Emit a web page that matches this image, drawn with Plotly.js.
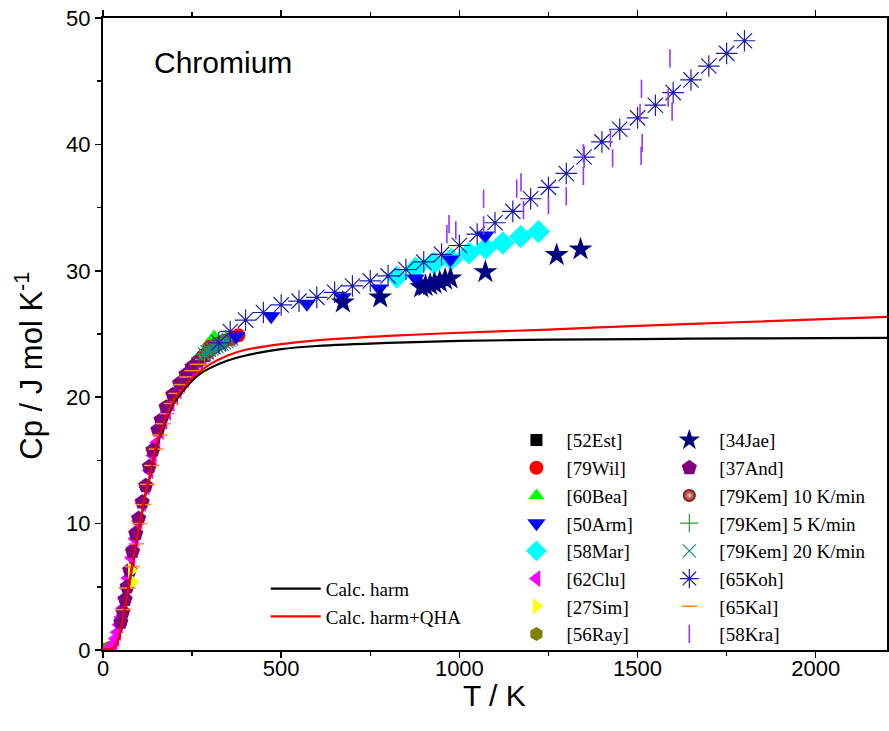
<!DOCTYPE html>
<html>
<head>
<meta charset="utf-8">
<script src="https://cdn.plot.ly/plotly-3.0.1.min.js"></script>
<style>html,body{margin:0;padding:0;background:#fff;}#chart{width:889px;height:731px;}</style>
</head>
<body>
<div id="chart"></div>
<script>
// ---- Data ----
const calcT      = [0, 20, 30, 40, 50, 60, 70, 80, 90, 100, 110, 120, 130, 140, 150, 165, 180, 200, 225, 250, 275, 300, 350, 400, 500, 600, 800, 1000, 1250, 1500, 1800, 2200];
const calcHarm   = [0, 0.05, 0.2, 0.6, 1.5, 2.9, 4.5, 6.3, 7.9, 9.4, 10.9, 12.4, 13.5, 14.9, 16.0, 17.3, 18.4, 19.6, 20.5, 21.3, 21.9, 22.3, 22.9, 23.3, 23.8, 24.05, 24.3, 24.45, 24.55, 24.6, 24.65, 24.7];
const calcQHA    = [0, 0.05, 0.2, 0.6, 1.6, 3.0, 4.6, 6.4, 8.0, 9.5, 11.0, 12.5, 13.6, 15.0, 16.2, 17.5, 18.6, 19.8, 20.7, 21.5, 22.1, 22.6, 23.3, 23.75, 24.2, 24.5, 24.85, 25.1, 25.35, 25.65, 25.95, 26.35];

const estT = [2, 4, 6, 8];            const estCp = [0.0, 0.01, 0.02, 0.04];
const wilT = [300, 320, 340, 360, 380]; const wilCp = [24.0, 24.2, 24.4, 24.6, 24.9];
const beaT = [295, 305, 312];          const beaCp = [24.2, 24.5, 24.8];
const armT = [374, 472, 572, 672, 775, 877, 975, 1073];
const armCp = [24.8, 26.4, 27.4, 27.9, 28.6, 29.4, 30.9, 32.8];
const marT = [825, 877, 929, 977, 1027, 1074, 1122, 1172, 1222];
const marCp = [29.5, 30.2, 30.6, 30.9, 31.4, 31.8, 32.2, 32.7, 33.1];
const cluT = [15, 20, 25, 30, 35, 40, 45, 50, 55, 60, 65, 70, 75, 80, 85, 90, 95, 100, 110, 120, 130, 140, 150, 160, 170, 180, 190, 200, 210, 220, 230, 240, 250, 260, 270, 280, 290, 300];
const cluCp = [0.05, 0.1, 0.25, 0.5, 0.9, 1.4, 2.0, 2.6, 3.3, 4.1, 4.9, 5.7, 6.5, 7.3, 8.1, 8.8, 9.5, 10.2, 11.6, 12.9, 14.2, 15.4, 16.4, 17.3, 18.1, 18.8, 19.5, 20.0, 20.5, 21.0, 21.4, 21.8, 22.1, 22.5, 22.8, 23.1, 23.4, 23.6];
const simT = [80, 84];                 const simCp = [6.3, 5.4];
const rayT = [3, 8, 13, 18];           const rayCp = [0.01, 0.05, 0.1, 0.2];
const jaeT = [673, 778, 893, 905, 918, 930, 945, 960, 975, 1073, 1273, 1340];
const jaeCp = [27.5, 27.9, 28.7, 28.8, 28.9, 29.0, 29.1, 29.3, 29.4, 29.9, 31.25, 31.7];
const andT = [50, 56, 62, 68, 75, 83, 92, 100, 110, 120, 130, 140, 154, 163, 177, 196, 215, 233, 250, 268, 285];
const andCp = [2.2, 3.0, 4.0, 5.0, 6.3, 7.8, 9.2, 10.4, 11.7, 13.0, 14.5, 15.8, 17.4, 18.2, 19.2, 20.2, 21.1, 21.8, 22.4, 22.9, 23.3];
const kem10T = [280, 290, 300, 310, 320, 330, 340];
const kem10Cp = [23.3, 23.5, 23.7, 23.9, 24.1, 24.3, 24.5];
const kem5T = [285, 295, 305, 315, 325, 335, 345];
const kem5Cp = [23.4, 23.6, 23.8, 24.0, 24.2, 24.4, 24.6];
const kem20T = [285, 292, 299, 306, 313, 320, 327, 334, 341, 348, 355, 362];
const kem20Cp = [23.4, 23.6, 23.7, 23.8, 23.9, 24.0, 24.1, 24.2, 24.3, 24.4, 24.5, 24.6];
const kohT = [325, 357, 400, 450, 500, 550, 600, 650, 700, 750, 800, 850, 900, 950, 1000, 1050, 1100, 1150, 1200, 1250, 1300, 1350, 1400, 1450, 1500, 1550, 1600, 1650, 1700, 1750, 1800];
const kohCp = [24.3, 25.2, 26.1, 26.7, 27.3, 27.6, 27.9, 28.3, 28.8, 29.2, 29.6, 30.1, 30.7, 31.3, 32.0, 32.9, 33.8, 34.7, 35.7, 36.6, 37.7, 39.0, 40.2, 41.2, 42.1, 43.1, 44.1, 45.1, 46.2, 47.2, 48.2];
const kalT = [58, 70, 82, 93, 103, 113, 125, 137, 149, 160, 170, 180, 192, 205, 220, 235, 250, 265, 280, 295];
const kalCp = [3.2, 4.9, 6.6, 8.4, 10.0, 11.5, 13.1, 14.6, 15.9, 17.0, 17.9, 18.7, 19.5, 20.3, 21.0, 21.6, 22.1, 22.6, 23.0, 23.4];
const kraT = [965, 971, 990, 1068, 1068, 1161, 1173, 1180, 1250, 1300, 1348, 1348, 1424, 1430, 1507, 1511, 1513, 1510, 1586, 1597, 1591];
const kraCp = [32.9, 33.7, 33.2, 35.7, 33.6, 36.5, 37.0, 34.8, 35.2, 35.9, 39.3, 37.5, 40.5, 38.9, 42.5, 44.4, 40.1, 39.1, 43.7, 42.6, 46.8];

const labels = {
  est: '[52Est]', wil: '[79Wil]', bea: '[60Bea]', arm: '[50Arm]', mar: '[58Mar]', clu: '[62Clu]', sim: '[27Sim]', ray: '[56Ray]',
  jae: '[34Jae]', and: '[37And]', kem10: '[79Kem] 10 K/min', kem5: '[79Kem] 5 K/min', kem20: '[79Kem] 20 K/min', koh: '[65Koh]', kal: '[65Kal]', kra: '[58Kra]',
  harm: 'Calc. harm', qha: 'Calc. harm+QHA'
};
const xTitle = 'T / K';
const yTitle = 'Cp / J mol K<sup>-1</sup>';
const plotLabel = 'Chromium';

function pts(x, y, name, legend, rank, symbol, color, size, extra) {
  const m = Object.assign({symbol: symbol, color: color, size: size, line: {width: 0}}, extra || {});
  return {x: x, y: y, name: name, type: 'scatter', mode: 'markers', marker: m, legend: legend, legendrank: rank};
}
function openSym(x, y, name, legend, rank, symbol, color, size, lw) {
  return {x: x, y: y, name: name, type: 'scatter', mode: 'markers', legend: legend, legendrank: rank,
    marker: {symbol: symbol, size: size, color: color, line: {color: color, width: lw}}};
}

const traces = [
  pts(estT, estCp, labels.est, 'legend', 1, 'square', '#000000', 12),
  pts(rayT, rayCp, labels.ray, 'legend', 8, 'hexagon', '#808000', 14),
  pts(cluT, cluCp, labels.clu, 'legend', 6, 'triangle-left', '#ff00ff', 15),
  pts(andT, andCp, labels.and, 'legend2', 2, 'pentagon', '#800080', 16),
  pts(simT, simCp, labels.sim, 'legend', 7, 'triangle-right', '#ffff00', 14),
  openSym(kalT, kalCp, labels.kal, 'legend2', 7, 'line-ew-open', '#ff8c1a', 11, 1.5),
  pts(beaT, beaCp, labels.bea, 'legend', 3, 'triangle-up', '#00ff00', 14),
  pts(wilT, wilCp, labels.wil, 'legend', 2, 'circle', '#ff0000', 14),
  pts(kem10T, kem10Cp, labels.kem10, 'legend2', 3, 'circle', '#800000', 13, {gradient: {type: 'radial', color: '#f0c0c0'}}),
  openSym(kem5T, kem5Cp, labels.kem5, 'legend2', 4, 'cross-thin-open', '#2e9a2e', 13, 1.2),
  openSym(kem20T, kem20Cp, labels.kem20, 'legend2', 5, 'x-thin-open', '#188a8a', 13, 1.2),
  pts(marT, marCp, labels.mar, 'legend', 5, 'diamond', '#00ffff', 18),
  pts(armT, armCp, labels.arm, 'legend', 4, 'triangle-down', '#0000ff', 16),
  pts(jaeT, jaeCp, labels.jae, 'legend2', 1, 'star', '#000080', 18),
  openSym(kohT, kohCp, labels.koh, 'legend2', 6, 'asterisk-open', '#1c1ca8', 18, 1.2),
  openSym(kraT, kraCp, labels.kra, 'legend2', 8, 'line-ns-open', '#9933ff', 13, 1.6),
  {x: calcT, y: calcHarm, name: labels.harm, type: 'scatter', mode: 'lines', line: {color: '#000000', width: 2.2, shape: 'spline', smoothing: 0.6}, legend: 'legend3', legendrank: 1},
  {x: calcT, y: calcQHA, name: labels.qha, type: 'scatter', mode: 'lines', line: {color: '#ff0000', width: 2.2, shape: 'spline', smoothing: 0.6}, legend: 'legend3', legendrank: 2}
];

const sans = 'Liberation Sans, Arial, sans-serif';
const axFont = {family: sans, size: 22, color: '#000'};
const legFont = {family: 'Liberation Serif, Times New Roman, serif', size: 19, color: '#000'};
const legCommon = {font: legFont, bgcolor: 'rgba(0,0,0,0)', borderwidth: 0, tracegroupgap: 0, itemsizing: 'trace', itemwidth: 50, traceorder: 'normal', xanchor: 'left', yanchor: 'top'};

const layout = {
  width: 889, height: 731,
  margin: {l: 103, r: 2, t: 18, b: 81},
  paper_bgcolor: '#ffffff', plot_bgcolor: '#ffffff',
  showlegend: true,
  xaxis: {
    range: [0, 2200], dtick: 500, tick0: 0, ticks: 'outside', ticklen: 6, tickwidth: 1.5, tickcolor: '#000',
    minor: {dtick: 250, ticks: 'outside', ticklen: 4, tickwidth: 1.5, tickcolor: '#000'},
    showline: true, linewidth: 2, linecolor: '#000', mirror: 'allticks', showgrid: false, zeroline: false,
    tickfont: axFont, ticklabelstandoff: -8
  },
  yaxis: {
    range: [0, 50], dtick: 10, tick0: 0, ticks: 'outside', ticklen: 6, tickwidth: 1.5, tickcolor: '#000',
    minor: {dtick: 5, ticks: 'outside', ticklen: 4, tickwidth: 1.5, tickcolor: '#000'},
    showline: true, linewidth: 2, linecolor: '#000', mirror: 'allticks', showgrid: false, zeroline: false,
    tickfont: axFont
  },
  legend: Object.assign({x: 0.5146, y: 0.362}, legCommon),
  legend2: Object.assign({x: 0.7096, y: 0.362}, legCommon),
  legend3: Object.assign({x: 0.2076, y: 0.127}, legCommon),
  annotations: [
    {text: plotLabel, xref: 'paper', yref: 'paper', x: 0.063, y: 0.929, xanchor: 'left', yanchor: 'middle', showarrow: false,
     font: {family: sans, size: 30, color: '#000'}},
    {text: xTitle, xref: 'paper', yref: 'paper', x: 0.4994, y: -0.072, xanchor: 'center', yanchor: 'middle', showarrow: false,
     font: {family: sans, size: 30, color: '#000'}},
    {text: yTitle, xref: 'paper', yref: 'paper', x: -0.0955, y: 0.45, xanchor: 'center', yanchor: 'middle', textangle: -90, showarrow: false,
     font: {family: sans, size: 31, color: '#000'}}
  ]
};

Plotly.newPlot('chart', traces, layout, {displayModeBar: false, staticPlot: true});
</script>
</body>
</html>
